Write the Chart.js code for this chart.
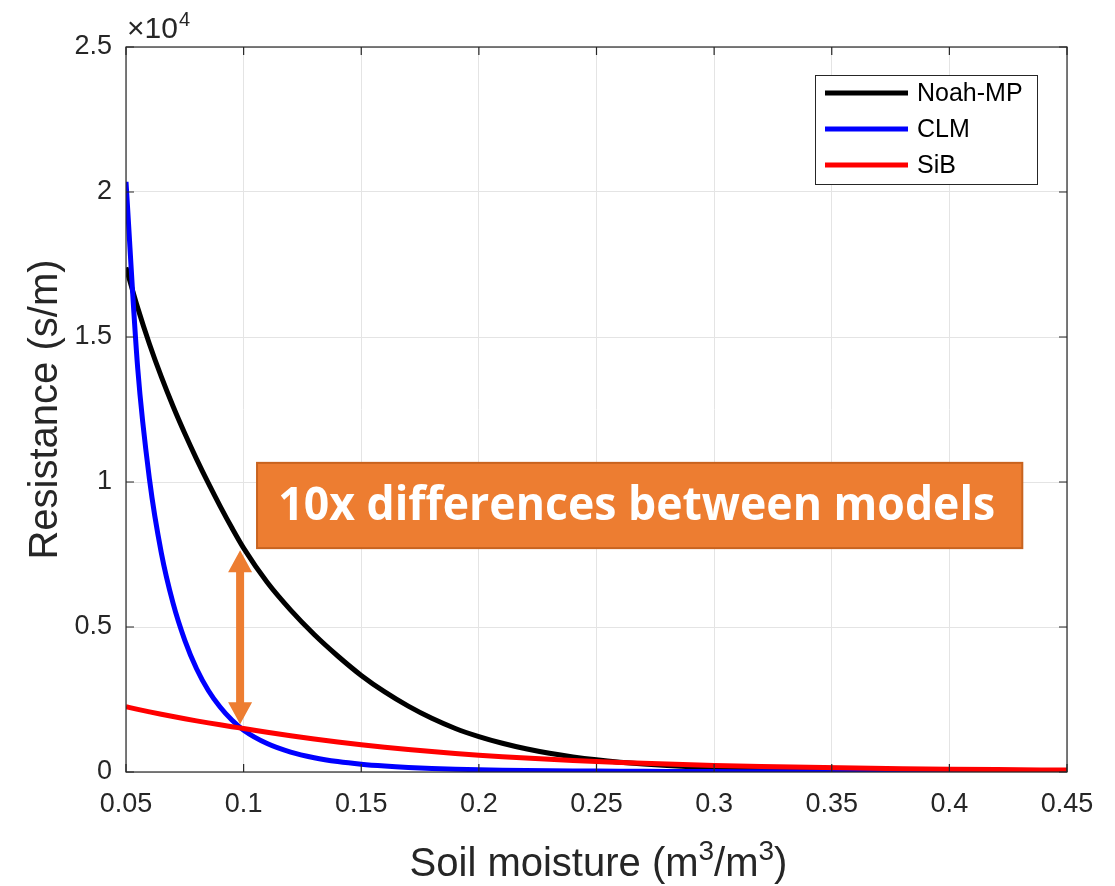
<!DOCTYPE html>
<html>
<head>
<meta charset="utf-8">
<title>Soil resistance vs soil moisture</title>
<script src="https://cdn.jsdelivr.net/npm/chart.js@4.4.1/dist/chart.umd.min.js"></script>
<style>
  html, body { margin: 0; padding: 0; background: #fff; }
  canvas { display: block; }
</style>
</head>
<body>
<canvas id="resistanceChart" width="1115" height="886"></canvas>
<script>
// soil moisture (m3/m3)
const moisture = [0.05, 0.055, 0.06, 0.065, 0.07, 0.075, 0.08, 0.085, 0.09, 0.095,
  0.10, 0.11, 0.12, 0.13, 0.14, 0.15, 0.16, 0.17, 0.18, 0.19,
  0.20, 0.21, 0.22, 0.23, 0.24, 0.25, 0.26, 0.27, 0.28, 0.29,
  0.30, 0.32, 0.34, 0.36, 0.38, 0.40, 0.42, 0.45];

// resistance (s/m)
const noahMP = [17400, 16000, 14750, 13630, 12610, 11670, 10790, 9960, 9170, 8420,
  7720, 6540, 5580, 4740, 4000, 3330, 2760, 2270, 1850, 1500,
  1220, 990, 800, 645, 520, 420, 340, 275, 222, 180,
  146, 96, 63, 42, 28, 19, 13, 8];
const clm = [20350, 13900, 10080, 7560, 5820, 4540, 3560, 2810, 2240, 1790,
  1440, 980, 686, 494, 360, 267, 203, 156, 122, 97,
  78, 64, 53, 44, 37, 31, 26, 22, 19, 16,
  14, 11, 8, 6, 5, 4, 3, 2];
const sib = [2250, 2161, 2075, 1992, 1913, 1837, 1764, 1694, 1627, 1562,
  1500, 1370, 1250, 1140, 1035, 940, 855, 775, 705, 640,
  580, 527, 480, 437, 398, 362, 330, 300, 274, 250,
  228, 190, 160, 135, 115, 98, 83, 65];

const seriesNames = ['Noah-MP', 'CLM', 'SiB'];
const seriesColors = ['#000000', '#0000ff', '#ff0000'];

const xTicks = [0.05, 0.1, 0.15, 0.2, 0.25, 0.3, 0.35, 0.4, 0.45];
const xTickLabels = ['0.05', '0.1', '0.15', '0.2', '0.25', '0.3', '0.35', '0.4', '0.45'];
const yTicks = [0, 5000, 10000, 15000, 20000, 25000];
const yTickLabels = ['0', '0.5', '1', '1.5', '2', '2.5'];

// callout, in data units
const noteText = '10x differences between models';
const noteBox = { x0: 0.1057, x1: 0.431, y0: 7720, y1: 10660 };
const arrowAt = { x: 0.0985, top: 7650, bottom: 1650 };

const axisFont = '"Liberation Sans", Arial, sans-serif';
const ink = '#262626';

const decorations = {
  id: 'decorations',
  afterDraw(chart) {
    const ctx = chart.ctx;
    const a = chart.chartArea;
    const xs = chart.scales.x, ys = chart.scales.y;
    ctx.save();

    // axes box with inward ticks
    ctx.strokeStyle = ink;
    ctx.lineWidth = 1.2;
    ctx.strokeRect(a.left, a.top, a.right - a.left, a.bottom - a.top);
    ctx.beginPath();
    xTicks.forEach(v => {
      const px = xs.getPixelForValue(v);
      ctx.moveTo(px, a.bottom); ctx.lineTo(px, a.bottom - 8);
      ctx.moveTo(px, a.top); ctx.lineTo(px, a.top + 8);
    });
    yTicks.forEach(v => {
      const py = ys.getPixelForValue(v);
      ctx.moveTo(a.left, py); ctx.lineTo(a.left + 8, py);
      ctx.moveTo(a.right, py); ctx.lineTo(a.right - 8, py);
    });
    ctx.stroke();

    // x10^4 multiplier
    ctx.fillStyle = ink;
    ctx.textAlign = 'left';
    ctx.textBaseline = 'alphabetic';
    ctx.font = '30px ' + axisFont;
    ctx.fillText('\u00d710', a.left + 1, a.top - 9);
    const mw = ctx.measureText('\u00d710').width;
    ctx.font = '20px ' + axisFont;
    ctx.fillText('4', a.left + 2 + mw, a.top - 21);

    // y title
    ctx.save();
    ctx.translate(57, (a.top + a.bottom) / 2);
    ctx.rotate(-Math.PI / 2);
    ctx.textAlign = 'center';
    ctx.font = '40px ' + axisFont;
    ctx.fillText('Resistance (s/m)', 0, 0);
    ctx.restore();

    // x title with superscripts
    const parts = [['Soil moisture (m', 40, 0], ['3', 28, 16], ['/m', 40, 0], ['3', 28, 16], [')', 40, 0]];
    let total = 0;
    parts.forEach(p => { ctx.font = p[1] + 'px ' + axisFont; total += ctx.measureText(p[0]).width; });
    let tx = (a.left + a.right) / 2 - total / 2 + 2;
    parts.forEach(p => {
      ctx.font = p[1] + 'px ' + axisFont;
      ctx.fillText(p[0], tx, 876 - p[2]);
      tx += ctx.measureText(p[0]).width;
    });

    // legend
    const lg = { left: 815, top: 75, width: 222, height: 109 };
    ctx.fillStyle = '#ffffff';
    ctx.fillRect(lg.left, lg.top, lg.width, lg.height);
    ctx.strokeStyle = ink;
    ctx.lineWidth = 1;
    ctx.strokeRect(lg.left + 0.5, lg.top + 0.5, lg.width, lg.height);
    ctx.font = '25px ' + axisFont;
    ctx.textBaseline = 'middle';
    seriesNames.forEach((name, i) => {
      const y = lg.top + 18 + i * 36;
      ctx.strokeStyle = seriesColors[i];
      ctx.lineWidth = 5;
      ctx.beginPath();
      ctx.moveTo(lg.left + 10, y);
      ctx.lineTo(lg.left + 93, y);
      ctx.stroke();
      ctx.fillStyle = '#000';
      ctx.fillText(name, lg.left + 102, y + 1);
    });

    // orange callout box
    const bx0 = xs.getPixelForValue(noteBox.x0), bx1 = xs.getPixelForValue(noteBox.x1);
    const by0 = ys.getPixelForValue(noteBox.y1), by1 = ys.getPixelForValue(noteBox.y0);
    ctx.fillStyle = '#ed7d31';
    ctx.fillRect(bx0, by0, bx1 - bx0, by1 - by0);
    ctx.strokeStyle = '#c8631f';
    ctx.lineWidth = 2;
    ctx.strokeRect(bx0, by0, bx1 - bx0, by1 - by0);
    ctx.fillStyle = '#ffffff';
    ctx.textAlign = 'center';
    ctx.textBaseline = 'middle';
    ctx.font = 'bold 46px "Open Sans", "Noto Sans", sans-serif';
    ctx.fillText(noteText, (bx0 + bx1) / 2 - 3, (by0 + by1) / 2 + 1, 717);

    // double-headed arrow
    const ax = xs.getPixelForValue(arrowAt.x);
    const at = ys.getPixelForValue(arrowAt.top), ab = ys.getPixelForValue(arrowAt.bottom);
    const head = 22, half = 12;
    ctx.fillStyle = '#ed7d31';
    ctx.fillRect(ax - 4, at + head - 1, 8, ab - at - 2 * head + 2);
    ctx.beginPath();
    ctx.moveTo(ax, at); ctx.lineTo(ax + half, at + head); ctx.lineTo(ax - half, at + head); ctx.closePath();
    ctx.moveTo(ax, ab); ctx.lineTo(ax + half, ab - head); ctx.lineTo(ax - half, ab - head); ctx.closePath();
    ctx.fill();

    ctx.restore();
  }
};

const datasets = [noahMP, clm, sib].map((vals, i) => ({
  label: seriesNames[i],
  data: moisture.map((m, j) => ({ x: m, y: vals[j] })),
  borderColor: seriesColors[i],
  backgroundColor: seriesColors[i],
  borderWidth: 5,
  pointRadius: 0,
  fill: false,
  cubicInterpolationMode: 'monotone',
  order: 2 - i
}));

new Chart(document.getElementById('resistanceChart').getContext('2d'), {
  type: 'line',
  data: { datasets: datasets },
  options: {
    responsive: false,
    animation: false,
    layout: { padding: { top: 47, right: 48, left: 0, bottom: 0 } },
    plugins: { legend: { display: false }, tooltip: { enabled: false } },
    scales: {
      x: {
        type: 'linear',
        min: 0.05,
        max: 0.45,
        afterBuildTicks: s => { s.ticks = xTicks.map(v => ({ value: v })); },
        afterFit: s => { s.height = 114; },
        ticks: {
          callback: (v, i) => xTickLabels[i],
          font: { size: 27, family: axisFont },
          color: ink,
          padding: 16,
          maxRotation: 0,
          autoSkip: false
        },
        grid: { color: '#e4e4e4', lineWidth: 1, drawTicks: false },
        border: { display: false }
      },
      y: {
        type: 'linear',
        min: 0,
        max: 25000,
        afterBuildTicks: s => { s.ticks = yTicks.map(v => ({ value: v })); },
        afterFit: s => { s.width = 126; },
        ticks: {
          callback: (v, i) => yTickLabels[i],
          font: { size: 27, family: axisFont },
          color: ink,
          padding: 14
        },
        grid: { color: '#e4e4e4', lineWidth: 1, drawTicks: false },
        border: { display: false }
      }
    }
  },
  plugins: [decorations]
});
</script>
</body>
</html>
